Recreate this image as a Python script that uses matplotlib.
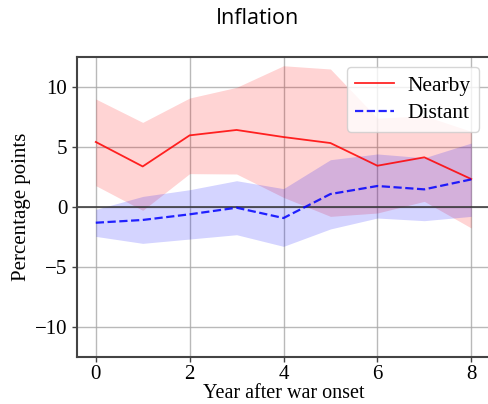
import numpy as np
import matplotlib
matplotlib.use("Agg")
import matplotlib.pyplot as plt

years = [0, 1, 2, 3, 4, 5, 6, 7, 8]

nearby = [5.42, 3.38, 5.97, 6.42, 5.83, 5.33, 3.44, 4.14, 2.33]
nearby_hi = [9.0, 7.05, 9.08, 9.97, 11.77, 11.5, 7.4, 7.6, 6.3]
nearby_lo = [1.78, -0.28, 2.78, 2.75, 0.8, -0.78, -0.5, 0.47, -1.75]

distant = [-1.31, -1.08, -0.61, -0.06, -0.92, 1.08, 1.75, 1.47, 2.3]
distant_hi = [-0.2, 0.88, 1.44, 2.19, 1.53, 3.94, 4.42, 4.1, 5.33]
distant_lo = [-2.45, -3.03, -2.67, -2.31, -3.28, -1.83, -0.92, -1.14, -0.78]

serif = ["Liberation Serif", "DejaVu Serif"]

fig = plt.figure(figsize=(4.88, 4.04), dpi=100)
ax = fig.add_axes([77 / 488, 1 - 357 / 404, (490 - 77) / 488, (357 - 57) / 404])

ax.fill_between(years, nearby_lo, nearby_hi, color="red", alpha=0.17, lw=0)
ax.fill_between(years, distant_lo, distant_hi, color="blue", alpha=0.17, lw=0)
ax.plot(years, nearby, color="red", lw=1.3, alpha=0.85, label="Nearby")
ax.plot(years, distant, color="blue", lw=1.6, ls="--", alpha=0.85, label="Distant")
ax.axhline(0, color="#333333", lw=1.1, zorder=1)

ax.set_xlim(-0.4, 8.4)
ax.set_ylim(-12.5, 12.5)
ax.set_xticks([0, 2, 4, 6, 8])
ax.set_yticks([-10, -5, 0, 5, 10])
ax.grid(True, color="#a8a8a8", lw=1.0, alpha=0.8)
ax.set_axisbelow(True)

for s in ax.spines.values():
    s.set_color("#444444")
    s.set_linewidth(1.5)

ax.tick_params(direction="out", length=3.5, width=1.0, color="#444444", labelsize=15)
ax.tick_params(axis="x", pad=2)
for lab in ax.get_xticklabels() + ax.get_yticklabels():
    lab.set_family(serif)

ax.set_xlabel("Year after war onset", family=serif, fontsize=14.5, labelpad=0)
ax.set_ylabel("Percentage points", family=serif, fontsize=15, labelpad=3)

leg = ax.legend(loc="upper right", bbox_to_anchor=(0.973, 0.967), borderaxespad=0,
                prop={"family": serif, "size": 15.5},
                handlelength=1.8, handletextpad=0.6, borderpad=0.4, labelspacing=0.35,
                framealpha=0.8)

fig.text(257 / 488, 1 - 18 / 404, "Inflation", ha="center", va="center",
         family="Open Sans", fontsize=15.5)

fig.savefig("out.png", dpi=100)
